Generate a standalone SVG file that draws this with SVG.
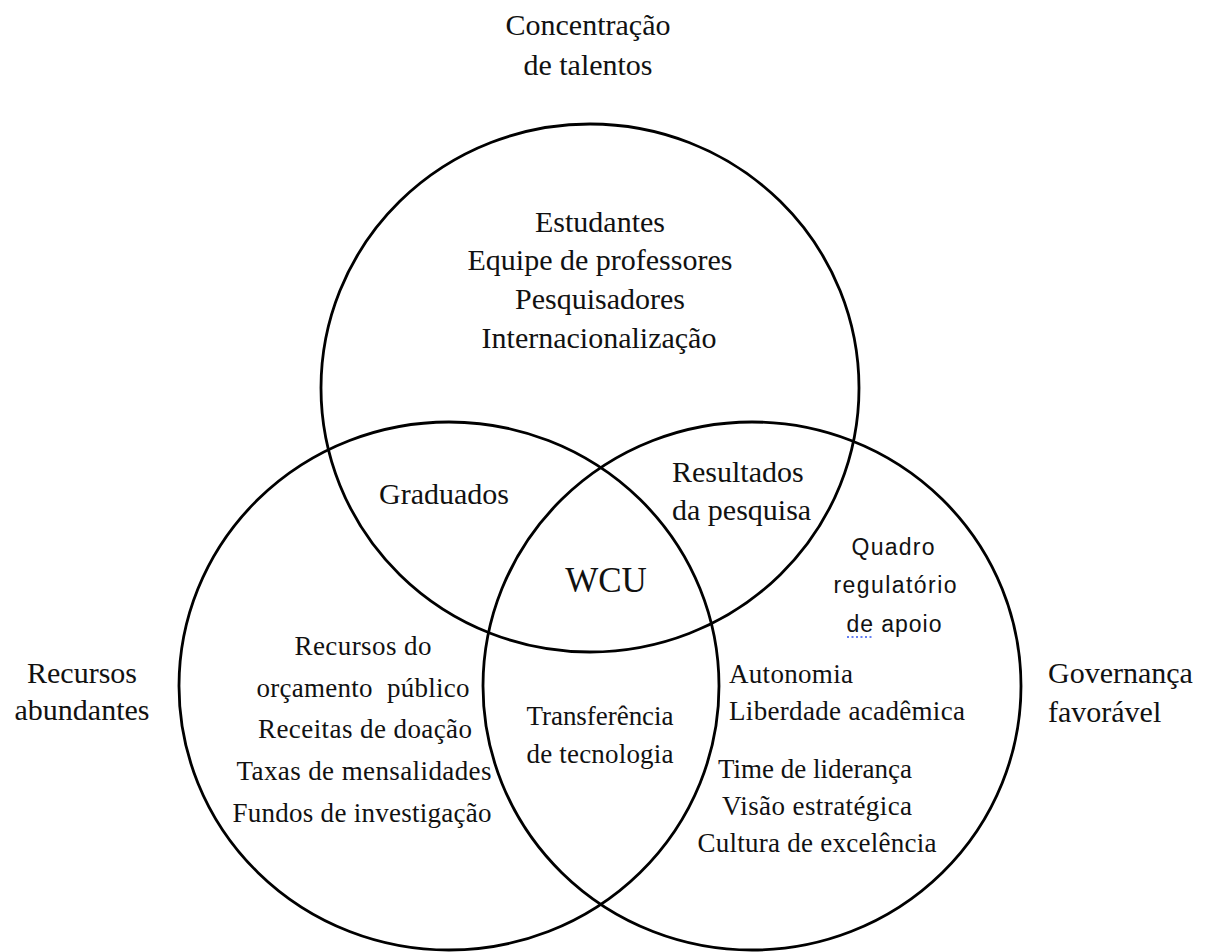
<svg xmlns="http://www.w3.org/2000/svg" width="1207" height="952" viewBox="0 0 1207 952">
  <style>
    .ring { fill: none; stroke: #000; stroke-width: 2.8; }
    .s { font-family: "Liberation Serif", "Times New Roman", serif; font-size: 30px; fill: #111; }
    .si { font-family: "Liberation Serif", "Times New Roman", serif; font-size: 27px; fill: #111; }
    .sans { font-family: "Liberation Sans", Arial, sans-serif; font-size: 23px; fill: #111; }
    .m { text-anchor: middle; }
  </style>
  <rect width="1207" height="952" fill="#fff"/>

  <g id="circles">
    <ellipse id="circle-talentos" class="ring" cx="590" cy="388" rx="269" ry="264"/>
    <ellipse id="circle-recursos" class="ring" cx="449" cy="686" rx="270" ry="264"/>
    <ellipse id="circle-governanca" class="ring" cx="752" cy="686" rx="269" ry="264"/>
  </g>

  <g id="connectors"></g>

  <g id="title-talentos">
    <text class="s m" x="588" y="35">Concentração</text>
    <text class="s m" x="588" y="75">de talentos</text>
  </g>

  <g id="talentos-items">
    <text class="s m" x="600" y="232">Estudantes</text>
    <text class="s m" x="600" y="270">Equipe de professores</text>
    <text class="s m" x="600" y="309">Pesquisadores</text>
    <text class="s m" x="599" y="348">Internacionalização</text>
  </g>

  <g id="graduados">
    <text class="s m" x="444" y="504">Graduados</text>
  </g>

  <g id="resultados">
    <text class="s" x="672" y="482">Resultados</text>
    <text class="s" x="672" y="520">da pesquisa</text>
  </g>

  <g id="wcu">
    <text class="s m" x="606" y="592" style="font-size:35px">WCU</text>
  </g>

  <g id="quadro">
    <text class="sans m" x="893" y="555" textLength="83" lengthAdjust="spacing">Quadro</text>
    <text class="sans m" x="895" y="593" textLength="123" lengthAdjust="spacing">regulatório</text>
    <text class="sans m" x="894" y="632" textLength="95" lengthAdjust="spacing">de apoio</text>
    <line x1="847" y1="637" x2="873" y2="637" stroke="#3355ee" stroke-width="1.5" stroke-dasharray="2,2.5"/>
  </g>

  <g id="label-recursos">
    <text class="s m" x="82" y="683">Recursos</text>
    <text class="s m" x="82" y="720">abundantes</text>
  </g>

  <g id="recursos-items">
    <text class="si m" x="363" y="655" textLength="137" lengthAdjust="spacing">Recursos do</text>
    <text class="si m" x="363" y="697" textLength="213" lengthAdjust="spacing" style="white-space:pre">orçamento  público</text>
    <text class="si m" x="365" y="738" textLength="214" lengthAdjust="spacing">Receitas de doação</text>
    <text class="si m" x="364" y="780" textLength="255" lengthAdjust="spacing">Taxas de mensalidades</text>
    <text class="si m" x="362" y="822" textLength="259" lengthAdjust="spacing">Fundos de investigação</text>
  </g>

  <g id="transferencia">
    <text class="si m" x="600" y="725" textLength="147" lengthAdjust="spacing">Transferência</text>
    <text class="si m" x="600" y="763" textLength="147" lengthAdjust="spacing">de tecnologia</text>
  </g>

  <g id="governanca-items">
    <text class="si" x="729" y="683" textLength="124" lengthAdjust="spacing">Autonomia</text>
    <text class="si" x="729" y="720" textLength="236" lengthAdjust="spacing">Liberdade acadêmica</text>
    <text class="si m" x="815" y="778" textLength="194" lengthAdjust="spacing">Time de liderança</text>
    <text class="si m" x="817" y="815" textLength="190" lengthAdjust="spacing">Visão estratégica</text>
    <text class="si m" x="817" y="852" textLength="239" lengthAdjust="spacing">Cultura de excelência</text>
  </g>

  <g id="label-governanca">
    <text class="s" x="1048" y="683">Governança</text>
    <text class="s" x="1048" y="722">favorável</text>
  </g>
</svg>
